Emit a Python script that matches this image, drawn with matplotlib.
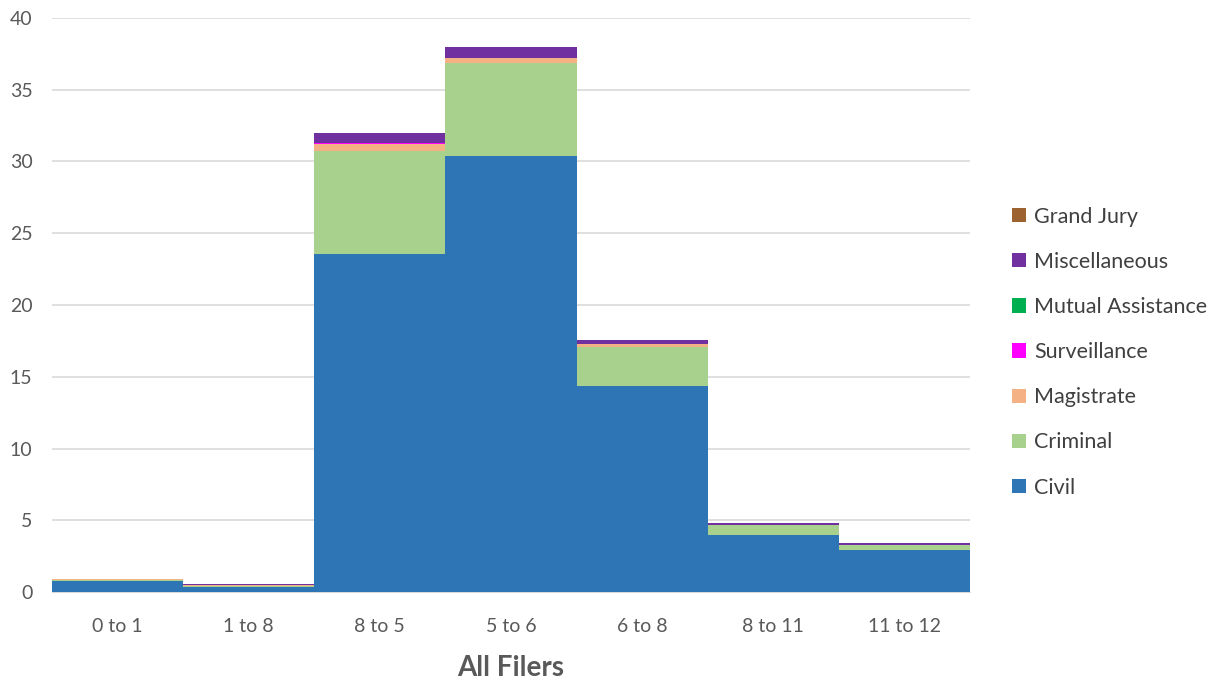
"""
Stacked bar chart of filings by category, All Filers
"""
import matplotlib
matplotlib.use("Agg")
import matplotlib.pyplot as plt
import numpy as np

plt.rcParams['font.family'] = ['Lato', 'DejaVu Sans']

# Data
CATEGORIES = ["0 to 1", "1 to 8", "8 to 5", "5 to 6", "6 to 8", "8 to 11", "11 to 12"]
CIVIL = [0.75, 0.35, 23.55, 30.38, 14.38, 3.99, 2.95]
CRIMINAL = [0.12, 0.04, 7.16, 6.46, 2.71, 0.68, 0.35]
MAGISTRATE = [0.03, 0.08, 0.50, 0.39, 0.17, 0.02, 0.01]
SURVEILLANCE = [0.0, 0.02, 0.10, 0.0, 0.0, 0.0, 0.0]
MUTUAL_ASSISTANCE = [0.0, 0.0, 0.0, 0.0, 0.0, 0.0, 0.0]
MISCELLANEOUS = [0.02, 0.06, 0.65, 0.73, 0.30, 0.10, 0.08]
GRAND_JURY = [0.0, 0.0, 0.0, 0.0, 0.0, 0.0, 0.0]

SERIES = [
    ("Civil", CIVIL, "#2E75B6"),
    ("Criminal", CRIMINAL, "#A9D18E"),
    ("Magistrate", MAGISTRATE, "#F4B183"),
    ("Surveillance", SURVEILLANCE, "#FF00FF"),
    ("Mutual Assistance", MUTUAL_ASSISTANCE, "#00B050"),
    ("Miscellaneous", MISCELLANEOUS, "#7030A0"),
    ("Grand Jury", GRAND_JURY, "#9C6230"),
]

fig = plt.figure(figsize=(12.17, 6.79), dpi=100)
ax = fig.add_axes([52 / 1217, 1 - 592 / 679, (970 - 52) / 1217, (592 - 18) / 679])

x = np.arange(len(CATEGORIES))
bottom = np.zeros(len(CATEGORIES))
for name, vals, color in SERIES:
    ax.bar(x, vals, width=1.0, bottom=bottom, color=color, label=name,
           linewidth=0, zorder=3)
    bottom += np.array(vals)

ax.set_xlim(-0.5, len(CATEGORIES) - 0.5)
ax.set_ylim(0, 40)
ax.set_yticks(range(0, 41, 5))
ax.set_xticks(x)
ax.set_xticklabels(CATEGORIES)
ax.grid(axis="y", color="#D9D9D9", linewidth=1.2, zorder=0)
for side in ["top", "right", "left"]:
    ax.spines[side].set_visible(False)
ax.spines["bottom"].set_color("#D9D9D9")
ax.tick_params(length=0, labelsize=14, colors="#595959", pad=19)
ax.tick_params(axis="y", pad=14)
ax.set_xlabel("All Filers", fontsize=20, fontweight="bold", color="#595959", labelpad=14)

handles, labels = ax.get_legend_handles_labels()
ax.legend(handles[::-1], labels[::-1], loc="center left", bbox_to_anchor=(1.025, 0.418),
          frameon=False, fontsize=15.5, labelcolor="#404040", handlelength=0.65,
          handleheight=0.65, handletextpad=0.35, labelspacing=1.17)

fig.savefig("out.png", dpi=100)
